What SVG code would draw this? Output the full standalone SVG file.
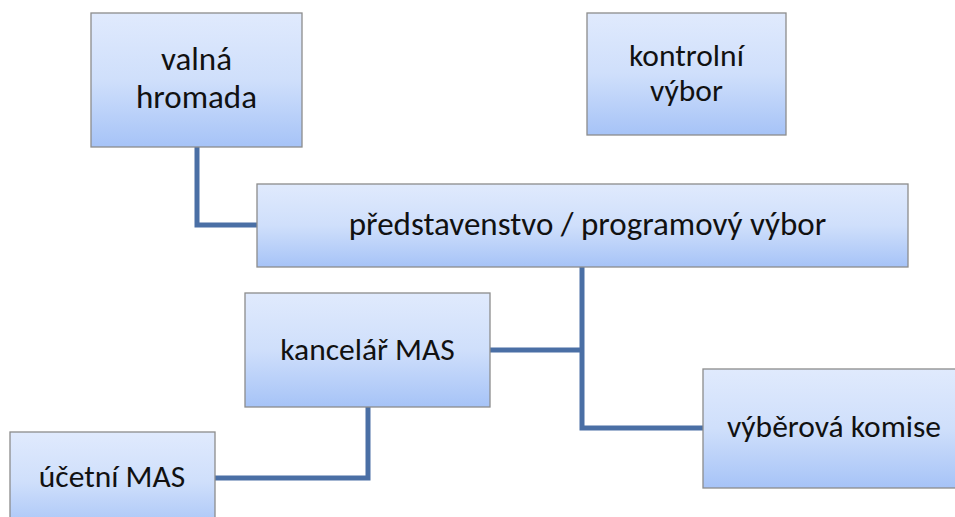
<svg xmlns="http://www.w3.org/2000/svg" width="955" height="517" viewBox="0 0 955 517">
<defs>
<linearGradient id="g" x1="0" y1="0" x2="0" y2="1">
<stop offset="0" stop-color="#e0eafd"/>
<stop offset="0.5" stop-color="#cfdffb"/>
<stop offset="1" stop-color="#a6c3f7"/>
</linearGradient>
</defs>
<style>
.box{fill:url(#g);stroke:#8c8c8c;stroke-width:1.3}
.t{font-family:Carlito,Calibri,"Open Sans","Liberation Sans",sans-serif;font-size:31.5px;fill:#111;text-anchor:middle}
.l{font-size:33px}
.c{fill:none;stroke:#4a6fa5;stroke-width:5}
</style>
<rect width="955" height="517" fill="#fff"/>
<g id="connectors">
<polyline class="c" points="197,147 197,225 257,225"/>
<polyline class="c" points="582,267 582,428 703,428"/>
<line class="c" x1="490" y1="350" x2="582" y2="350"/>
<polyline class="c" points="368,407 368,478 215,478"/>
</g>
<g id="valna-hromada">
<rect class="box" x="91" y="13" width="211" height="134"/>
<text class="t l" x="196.5" y="70">valná</text>
<text class="t l" x="196.5" y="108">hromada</text>
</g>
<g id="kontrolni-vybor">
<rect class="box" x="587" y="13" width="199" height="122"/>
<text class="t" x="686.5" y="66">kontrolní</text>
<text class="t" x="686.5" y="101">výbor</text>
</g>
<g id="predstavenstvo">
<rect class="box" x="257" y="184" width="651" height="83"/>
<text class="t l" x="587.5" y="235">představenstvo / programový výbor</text>
</g>
<g id="kancelar">
<rect class="box" x="245" y="293" width="245" height="114"/>
<text class="t" x="367.5" y="360">kancelář MAS</text>
</g>
<g id="vyberova-komise">
<rect class="box" x="703" y="369" width="260" height="119"/>
<text class="t" x="834" y="437">výběrová komise</text>
</g>
<g id="ucetni">
<rect class="box" x="10" y="432" width="205" height="100"/>
<text class="t" x="112" y="487">účetní MAS</text>
</g>
</svg>
